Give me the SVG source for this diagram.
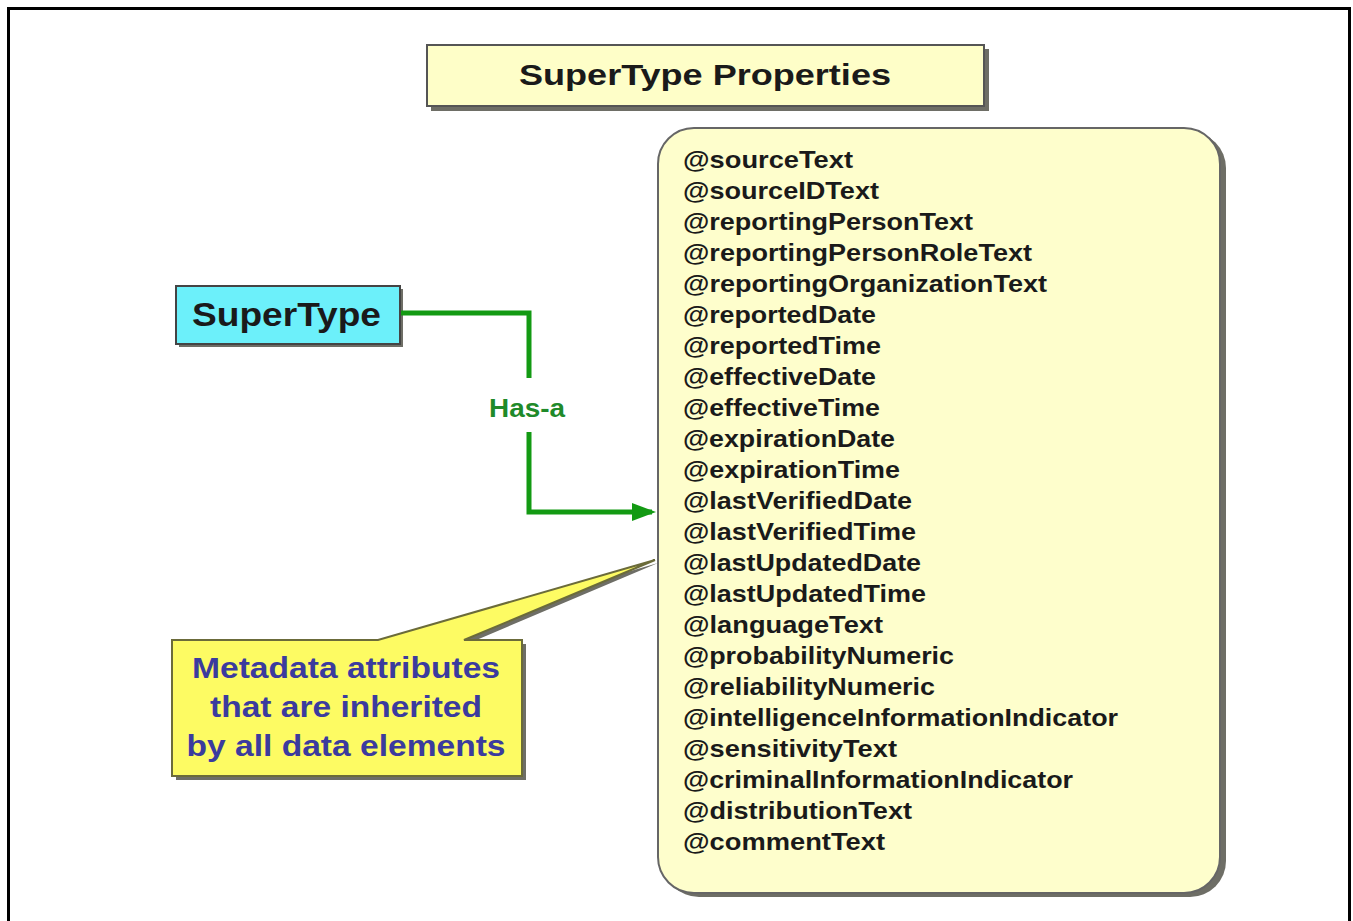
<svg xmlns="http://www.w3.org/2000/svg" width="1353" height="921" viewBox="0 0 1353 921">
<style>
.item{font-family:"Liberation Sans",Arial,sans-serif;font-weight:bold;font-size:24px;fill:#1a1a1a}
.call{font-family:"Liberation Sans",Arial,sans-serif;font-weight:bold;font-size:30px;fill:#3b3b9e;text-anchor:middle}
.shadow{fill:#6e6e66}
</style>
<defs>
<marker id="arr" markerWidth="6" markerHeight="4" refX="4" refY="1.8" orient="auto" markerUnits="strokeWidth">
<path d="M0,0 L4.8,1.8 L0,3.6 Z" fill="#139a13"/>
</marker>
</defs>
<rect x="0" y="0" width="1353" height="921" fill="#ffffff"/>
<rect x="8.5" y="8.5" width="1341" height="940" fill="none" stroke="#000" stroke-width="3"/>

<g id="title">
<rect class="shadow" x="431" y="49" width="558" height="62"/>
<rect x="427" y="45" width="557" height="61" fill="#fefec8" stroke="#555" stroke-width="2"/>
<text x="705" y="85" text-anchor="middle" font-family="'Liberation Sans',Arial,sans-serif" font-weight="bold" font-size="30" fill="#1a1a1a" textLength="372" lengthAdjust="spacingAndGlyphs">SuperType Properties</text>
</g>

<g id="supertype">
<rect class="shadow" x="179" y="289" width="224" height="58"/>
<rect x="176" y="286" width="224" height="58" fill="#6cf0fa" stroke="#444" stroke-width="2"/>
<text x="192" y="326" font-family="'Liberation Sans',Arial,sans-serif" font-weight="bold" font-size="33" fill="#1a1a1a" textLength="189" lengthAdjust="spacingAndGlyphs">SuperType</text>
</g>

<g id="connectors">
<path d="M401,313 H529 V378" fill="none" stroke="#139a13" stroke-width="5"/>
<path d="M529,432 V512 H652" fill="none" stroke="#139a13" stroke-width="5" marker-end="url(#arr)"/>
<text x="527" y="417" text-anchor="middle" font-family="'Liberation Sans',Arial,sans-serif" font-weight="bold" font-size="26" fill="#1f8a2a" textLength="76" lengthAdjust="spacingAndGlyphs">Has-a</text>
</g>

<g id="properties">
<rect class="shadow" x="663" y="132" width="563" height="765" rx="36"/>
<rect x="658" y="128" width="562" height="765" rx="36" fill="#fefecc" stroke="#666" stroke-width="2"/>
<text class="item" x="683" y="168" textLength="170" lengthAdjust="spacingAndGlyphs">@sourceText</text>
<text class="item" x="683" y="199" textLength="196" lengthAdjust="spacingAndGlyphs">@sourceIDText</text>
<text class="item" x="683" y="230" textLength="290" lengthAdjust="spacingAndGlyphs">@reportingPersonText</text>
<text class="item" x="683" y="261" textLength="349" lengthAdjust="spacingAndGlyphs">@reportingPersonRoleText</text>
<text class="item" x="683" y="292" textLength="364" lengthAdjust="spacingAndGlyphs">@reportingOrganizationText</text>
<text class="item" x="683" y="323" textLength="193" lengthAdjust="spacingAndGlyphs">@reportedDate</text>
<text class="item" x="683" y="354" textLength="198" lengthAdjust="spacingAndGlyphs">@reportedTime</text>
<text class="item" x="683" y="385" textLength="193" lengthAdjust="spacingAndGlyphs">@effectiveDate</text>
<text class="item" x="683" y="416" textLength="197" lengthAdjust="spacingAndGlyphs">@effectiveTime</text>
<text class="item" x="683" y="447" textLength="212" lengthAdjust="spacingAndGlyphs">@expirationDate</text>
<text class="item" x="683" y="478" textLength="217" lengthAdjust="spacingAndGlyphs">@expirationTime</text>
<text class="item" x="683" y="509" textLength="229" lengthAdjust="spacingAndGlyphs">@lastVerifiedDate</text>
<text class="item" x="683" y="540" textLength="233" lengthAdjust="spacingAndGlyphs">@lastVerifiedTime</text>
<text class="item" x="683" y="571" textLength="238" lengthAdjust="spacingAndGlyphs">@lastUpdatedDate</text>
<text class="item" x="683" y="602" textLength="243" lengthAdjust="spacingAndGlyphs">@lastUpdatedTime</text>
<text class="item" x="683" y="633" textLength="200" lengthAdjust="spacingAndGlyphs">@languageText</text>
<text class="item" x="683" y="664" textLength="271" lengthAdjust="spacingAndGlyphs">@probabilityNumeric</text>
<text class="item" x="683" y="695" textLength="252" lengthAdjust="spacingAndGlyphs">@reliabilityNumeric</text>
<text class="item" x="683" y="726" textLength="435" lengthAdjust="spacingAndGlyphs">@intelligenceInformationIndicator</text>
<text class="item" x="683" y="757" textLength="214" lengthAdjust="spacingAndGlyphs">@sensitivityText</text>
<text class="item" x="683" y="788" textLength="390" lengthAdjust="spacingAndGlyphs">@criminalInformationIndicator</text>
<text class="item" x="683" y="819" textLength="229" lengthAdjust="spacingAndGlyphs">@distributionText</text>
<text class="item" x="683" y="850" textLength="202" lengthAdjust="spacingAndGlyphs">@commentText</text>
</g>

<g id="callout">
<path d="M176,644 H381 L658,563 L467,644 H526 V780 H176 Z" class="shadow"/>
<path d="M172,640 H378 L655,560 L464,640 H522 V776 H172 Z" fill="#fdfb63" stroke="#6b6b3a" stroke-width="2" stroke-linejoin="miter"/>
<text class="call" x="346" y="678" textLength="308" lengthAdjust="spacingAndGlyphs">Metadata attributes</text>
<text class="call" x="346" y="717" textLength="272" lengthAdjust="spacingAndGlyphs">that are inherited</text>
<text class="call" x="346" y="756" textLength="319" lengthAdjust="spacingAndGlyphs">by all data elements</text>
</g>
</svg>
